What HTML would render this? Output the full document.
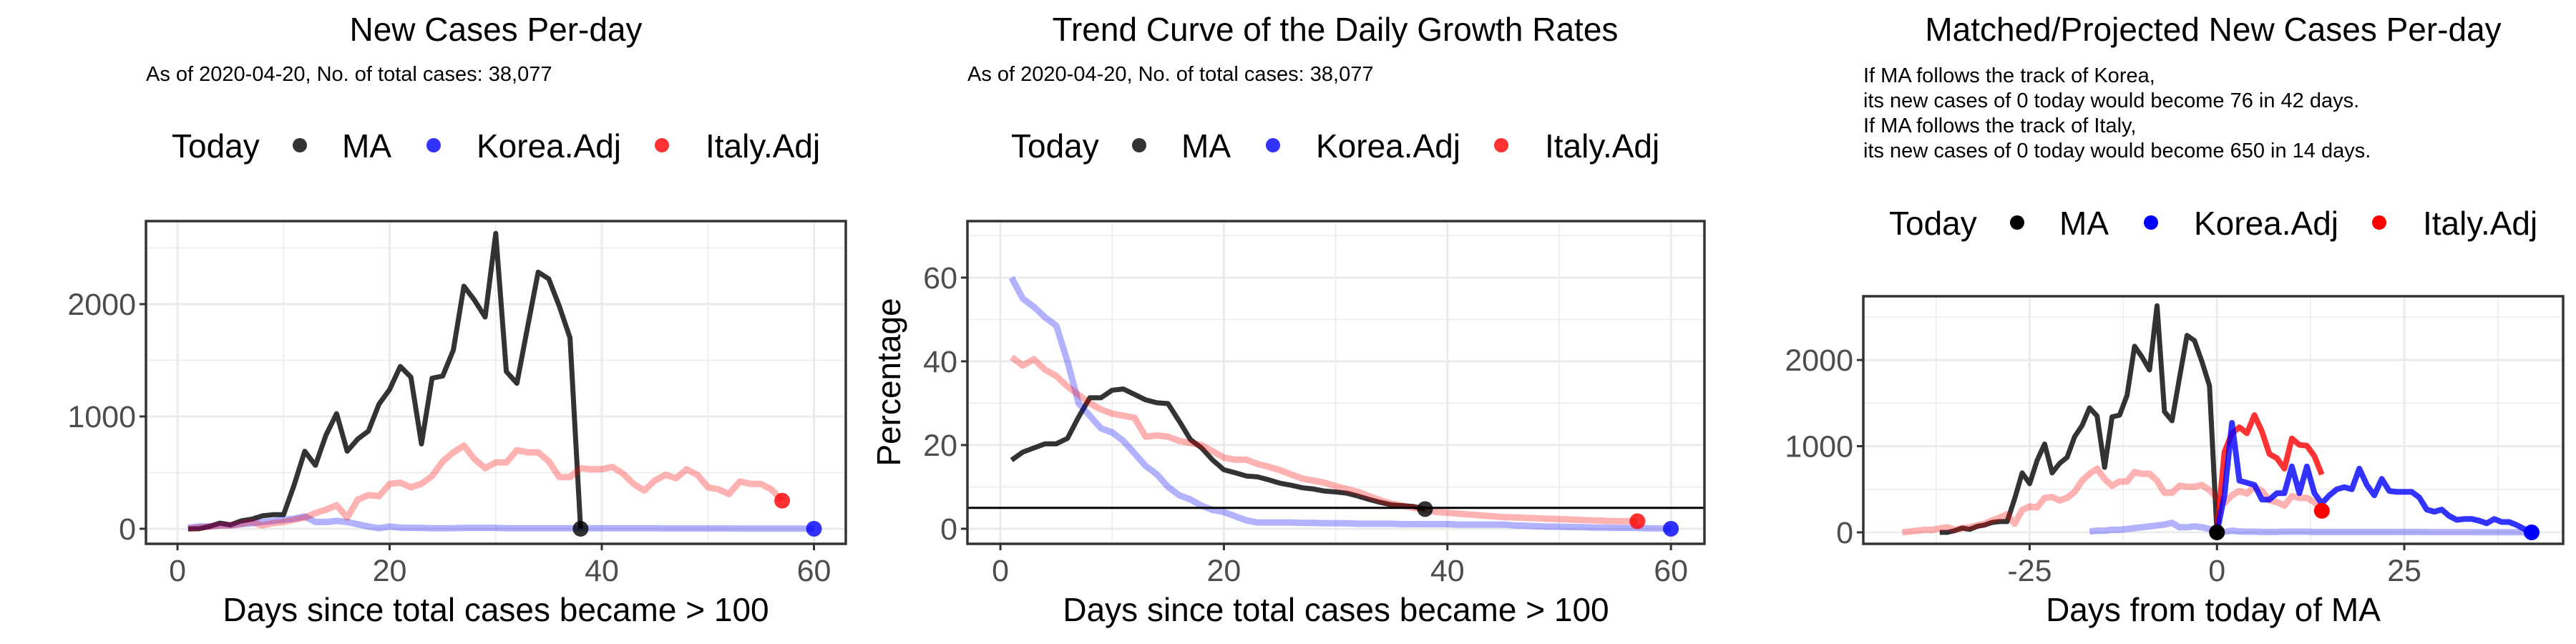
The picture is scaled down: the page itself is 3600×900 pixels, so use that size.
<!DOCTYPE html>
<html><head><meta charset="utf-8"><style>
html,body{margin:0;padding:0;background:#fff;}
svg{display:block;font-family:"Liberation Sans",Arial,sans-serif;}
</style></head><body>
<svg id="chart" width="3600" height="900" viewBox="0 0 3600 900" xmlns="http://www.w3.org/2000/svg"></svg>
<script>
// ---------- Data ----------
const maNew = [0,0,20,50,35,70,85,115,125,125,390,690,565,835,1025,690,800,870,1110,1240,1445,1350,755,1340,1360,1590,2160,2035,1885,2630,1400,1295,1795,2285,2225,1980,1700,0];
const koreaNew = [10,20,20,30,30,40,50,60,70,80,90,110,60,60,70,60,40,20,5,20,10,8,8,5,5,5,8,8,8,8,5,5,5,5,5,5,5,5,5,5,5,5,5,5,5,3,3,3,3,3,3,3,2,2,2,2,2,2,1,0];
const italyNew = [0,10,20,30,30,45,60,30,50,60,80,100,140,170,210,100,260,300,290,400,410,370,400,470,600,680,740,620,540,590,590,700,680,680,600,460,460,540,530,530,550,490,400,340,430,480,450,530,480,370,350,310,420,400,400,350,250];
const maRate = [16.4,18.3,19.3,20.3,20.3,21.6,26.7,31.3,31.3,33.1,33.4,32.1,30.8,30.1,29.9,25.7,21.3,19.3,16.4,14.1,13.4,12.6,12.4,11.7,10.9,10.4,9.8,9.5,9.0,8.8,8.5,7.8,7.0,6.3,5.7,5.5,5.3,4.7];
const koreaRate = [60,55,53,50.5,48.5,40,30,27,24,23,21,18,15,13,10,8,7,5.5,4.5,4,3,2,1.5,1.5,1.5,1.5,1.4,1.4,1.3,1.3,1.3,1.2,1.2,1.2,1.2,1.1,1.1,1.1,1.1,1.1,1,1,1,1,1,0.8,0.7,0.6,0.5,0.5,0.4,0.4,0.3,0.3,0.2,0.2,0.2,0.1,0.1,0];
const italyRate = [41,39,40.5,38,36.5,34,32,30,28.5,27.5,27,26.5,22,22.3,22,21,20.5,20,18.5,17,16.5,16.5,15.5,14.8,14,13,12,11.5,11,10.2,9.5,8.8,7.8,6.8,6,5.5,5,4.5,4,3.8,3.6,3.4,3.2,3,2.8,2.7,2.6,2.5,2.4,2.3,2.2,2.1,2,1.9,1.8,1.8,1.8];
const italyProj = [0,930,1150,1220,1150,1360,1170,910,860,740,1090,1015,1005,885,670];
const koreaProj = [0,430,1270,600,575,550,380,380,455,455,765,455,765,455,335,430,500,525,500,740,550,430,620,480,470,470,470,405,265,240,265,190,145,155,155,135,105,155,120,120,85,40,0];
const maShift = -38, koreaShift = -18, italyShift = -43;
const growthThreshold = 5;
const xTicks12 = [0,20,40,60];
const yTicksCases = [0,1000,2000];
const yTicksRate = [0,20,40,60];
const xTicks3 = [-25,0,25];

const svg = document.getElementById('chart');
const NS = 'http://www.w3.org/2000/svg';
function mk(tag, attrs, parent){
  const e = document.createElementNS(NS, tag);
  for (const k in attrs) e.setAttribute(k, attrs[k]);
  (parent||svg).appendChild(e);
  return e;
}
function txt(s, attrs, parent){ const e = mk('text', attrs, parent); e.textContent = s; return e; }

const MA_C = 'rgba(0,0,0,0.8)', KO_F = 'rgba(0,0,255,0.3)', IT_F = 'rgba(255,0,0,0.3)', KO_B = 'rgba(0,0,255,0.8)', IT_B = 'rgba(255,0,0,0.8)';

function panel(p){
  const g = mk('g', {});
  
  
  const sx = v => p.px0 + (v - p.xmin)/(p.xmax - p.xmin)*(p.px1 - p.px0);
  const sy = v => p.py1 - (v - p.ymin)/(p.ymax - p.ymin)*(p.py1 - p.py0);
  p.xMinor.forEach(v=>{ const l=mk('line',{x1:sx(v),x2:sx(v),y1:p.py0,y2:p.py1,stroke:'#ebebeb','stroke-width':1.5},g);   });
  p.yMinor.forEach(v=>{ const l=mk('line',{x1:p.px0,x2:p.px1,y1:sy(v),y2:sy(v),stroke:'#ebebeb','stroke-width':1.5},g);   });
  p.xTicks.forEach(v=>{ const l=mk('line',{x1:sx(v),x2:sx(v),y1:p.py0,y2:p.py1,stroke:'#ebebeb','stroke-width':3},g);   });
  p.yTicks.forEach(v=>{ const l=mk('line',{x1:p.px0,x2:p.px1,y1:sy(v),y2:sy(v),stroke:'#ebebeb','stroke-width':3},g);   });
  const clipId = p.name+'-clip';
  const cp = mk('clipPath',{id:clipId},g); mk('rect',{x:p.px0,y:p.py0,width:p.px1-p.px0,height:p.py1-p.py0},cp);
  const plot = mk('g',{'clip-path':'url(#'+clipId+')'},g);
  p.series.forEach(s=>{
    let d=''; let pen=false;
    s.values.forEach((v,i)=>{
      if (v===null){pen=false;return;}
      d += (pen?'L':'M') + sx(s.x0+i).toFixed(1)+','+sy(v).toFixed(1)+' ';
      pen=true;
    });
    const path = mk('path',{d:d,fill:'none',stroke:s.color,'stroke-width':s.w,'stroke-linejoin':'round','stroke-linecap':'butt'},plot);
    
    
  });
  (p.hlines||[]).forEach(h=>{
    const l = mk('line',{x1:p.px0,x2:p.px1,y1:sy(h),y2:sy(h),stroke:'#000','stroke-width':3},plot);
    
    
  });
  p.dots.forEach(dt=>{
    const c = mk('circle',{cx:sx(dt.x),cy:sy(dt.y),r:11,fill:dt.color},plot);
    
    
  });
  const border = mk('rect',{x:p.px0,y:p.py0,width:p.px1-p.px0,height:p.py1-p.py0,fill:'none',stroke:'#333','stroke-width':3.5},g);
  
  
  p.xTicks.forEach((v,i)=>{
    mk('line',{x1:sx(v),x2:sx(v),y1:p.py1,y2:p.py1+9,stroke:'#333','stroke-width':3},g);
    const t = txt(String(v),{x:sx(v),y:812,'font-size':43,fill:'#4d4d4d','text-anchor':'middle'},g);
    
    
  });
  p.yTicks.forEach(v=>{
    mk('line',{x1:p.px0-9,x2:p.px0,y1:sy(v),y2:sy(v),stroke:'#333','stroke-width':3},g);
    const t = txt(String(v),{x:p.px0-14,y:sy(v)+15,'font-size':43,fill:'#4d4d4d','text-anchor':'end'},g);
    
    
  });
  const xt = txt(p.xTitle,{x:(p.px0+p.px1)/2,y:868,'font-size':46,fill:'#000','text-anchor':'middle'},g);
  
  
  if (p.yTitle){
    const yt = txt(p.yTitle,{x:0,y:0,'font-size':46,fill:'#000','text-anchor':'middle',transform:'translate('+(p.offset+58)+',534) rotate(-90)'},g);
    
    
  }
  const tt = txt(p.title,{x:p.titleX,y:57,'font-size':46,fill:'#000','text-anchor':'middle'},g);
  
  
  p.sub.forEach((line,i)=>{
    const st = txt(line,{x:p.subX,y:p.subY+i*35,'font-size':29,fill:'#000'},g);
    
    
  });
  const lg = mk('g',{},g);
  
  
  const L = p.legX, ly = p.legY;
  txt('Today',{x:L,y:ly+17,'font-size':46,fill:'#000'},lg);
  const items = [['MA',p.legDots[0],179,238],['Korea.Adj',p.legDots[1],366,426],['Italy.Adj',p.legDots[2],685,746]];
  items.forEach(it=>{
    const c = mk('circle',{cx:L+it[2],cy:ly,r:10,fill:it[1]},lg);
    
    
    const t = txt(it[0],{x:L+it[3],y:ly+17,'font-size':46,fill:'#000'},lg);
    
    
  });
}

const faint = [
  {name:'ma-line', values:maNew, x0:1, color:MA_C, w:7},
  {name:'korea-line', values:koreaNew, x0:1, color:KO_F, w:9},
  {name:'italy-line', values:italyNew, x0:1, color:IT_F, w:9}
];
panel({name:'new-cases-panel', offset:0, px0:204, px1:1182, py0:309, py1:760, xmin:-2.97, xmax:63, ymin:-134, ymax:2739,
  xTicks:xTicks12, xMinor:[10,30,50], yTicks:yTicksCases, yMinor:[500,1500,2500],
  series:faint,
  dots:[{name:'ma-today-dot',x:maNew.length,y:maNew[maNew.length-1],color:'rgba(0,0,0,0.8)'},{name:'korea-today-dot',x:koreaNew.length,y:koreaNew[koreaNew.length-1],color:'rgba(0,0,255,0.8)'},{name:'italy-today-dot',x:italyNew.length,y:italyNew[italyNew.length-1],color:'rgba(255,0,0,0.8)'}],
  xTitle:'Days since total cases became > 100', title:'New Cases Per-day', titleX:693,
  sub:['As of 2020-04-20, No. of total cases: 38,077'], subX:204, subY:113,
  legX:240, legY:203, legDots:['rgba(0,0,0,0.8)','rgba(0,0,255,0.8)','rgba(255,0,0,0.8)']});

panel({name:'growth-rate-panel', offset:1200, px0:1352, px1:2382, py0:309, py1:760, xmin:-2.95, xmax:63, ymin:-3.6, ymax:73.5,
  xTicks:xTicks12, xMinor:[10,30,50], yTicks:yTicksRate, yMinor:[10,30,50,70],
  series:[{name:'ma-rate-line',values:maRate,x0:1,color:MA_C,w:7},{name:'korea-rate-line',values:koreaRate,x0:1,color:KO_F,w:9},{name:'italy-rate-line',values:italyRate,x0:1,color:IT_F,w:9}],
  hlines:[growthThreshold],
  dots:[{name:'ma-today-dot',x:maRate.length,y:maRate[maRate.length-1],color:'rgba(0,0,0,0.8)'},{name:'korea-today-dot',x:koreaRate.length,y:koreaRate[koreaRate.length-1],color:'rgba(0,0,255,0.8)'},{name:'italy-today-dot',x:italyRate.length,y:italyRate[italyRate.length-1],color:'rgba(255,0,0,0.8)'}],
  xTitle:'Days since total cases became > 100', yTitle:'Percentage', title:'Trend Curve of the Daily Growth Rates', titleX:1866,
  sub:['As of 2020-04-20, No. of total cases: 38,077'], subX:1352, subY:113,
  legX:1413, legY:203, legDots:['rgba(0,0,0,0.8)','rgba(0,0,255,0.8)','rgba(255,0,0,0.8)']});

panel({name:'projected-panel', offset:2400, px0:2604, px1:3582, py0:414, py1:760, xmin:-47.2, xmax:46.2, ymin:-133, ymax:2740,
  xTicks:xTicks3, xMinor:[-37.5,-12.5,12.5,37.5], yTicks:yTicksCases, yMinor:[500,1500,2500],
  series:[
    {name:'ma-line',values:maNew,x0:1+maShift,color:MA_C,w:7},
    {name:'korea-matched-line',values:koreaNew,x0:1+koreaShift,color:KO_F,w:9},
    {name:'italy-matched-line',values:italyNew,x0:1+italyShift,color:IT_F,w:9},
    {name:'italy-projected-line',values:italyProj,x0:0,color:IT_B,w:8},
    {name:'korea-projected-line',values:koreaProj,x0:0,color:KO_B,w:8}
  ],
  dots:[{name:'ma-today-dot',x:0,y:maNew[maNew.length-1],color:'#000'},{name:'korea-end-dot',x:koreaNew.length+koreaShift,y:koreaNew[koreaNew.length-1],color:'#00f'},{name:'italy-end-dot',x:italyNew.length+italyShift,y:italyNew[italyNew.length-1],color:'#f00'}],
  xTitle:'Days from today of MA', title:'Matched/Projected New Cases Per-day', titleX:3093,
  sub:['If MA follows the track of Korea,','its new cases of 0 today would become 76 in 42 days.','If MA follows the track of Italy,','its new cases of 0 today would become 650 in 14 days.'], subX:2604, subY:115,
  legX:2640, legY:311, legDots:['#000','#00f','#f00']});
</script>
</body></html>
